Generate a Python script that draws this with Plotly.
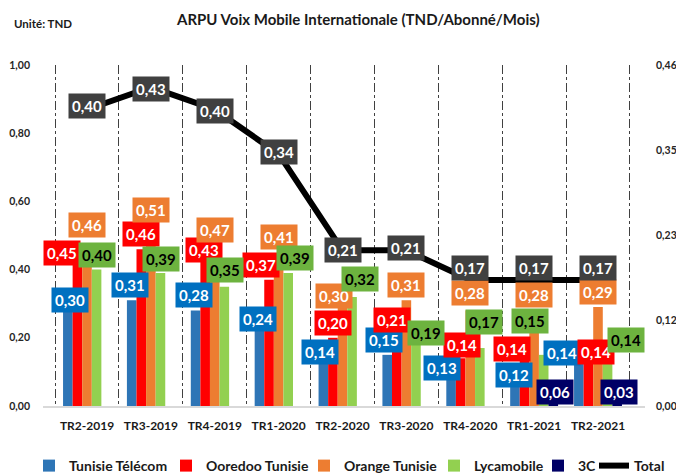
import plotly.graph_objects as go

# ---------------- data ----------------
categories = ["TR2-2019", "TR3-2019", "TR4-2019", "TR1-2020", "TR2-2020",
              "TR3-2020", "TR4-2020", "TR1-2021", "TR2-2021"]
tunisie_telecom = [0.30, 0.31, 0.28, 0.24, 0.14, 0.15, 0.13, 0.12, 0.14]
ooredoo = [0.45, 0.46, 0.43, 0.37, 0.20, 0.21, 0.14, 0.14, 0.14]
orange = [0.46, 0.51, 0.47, 0.41, 0.30, 0.31, 0.28, 0.28, 0.29]
lycamobile = [0.40, 0.39, 0.35, 0.39, 0.32, 0.19, 0.17, 0.15, 0.14]
c3 = [None, None, None, None, None, None, None, 0.06, 0.03]
total = [0.40, 0.43, 0.40, 0.34, 0.21, 0.21, 0.17, 0.17, 0.17]

left_ticks = [0.0, 0.2, 0.4, 0.6, 0.8, 1.0]
right_ticks = [0.0, 0.115, 0.23, 0.345, 0.46]
right_tick_labels = ["0,00", "0,12", "0,23", "0,35", "0,46"]

# ---------------- styles ----------------
FONT = "Lato, 'Open Sans', sans-serif"
OFF = 0  # page body margin removed via post_script
W, H = 676, 475
# target plot area on screen: x 43..645, y 65..406
ML = 43 - OFF
MT = 65 - OFF
MR = W - (645 - OFF)
MB = H - (406 - OFF)
PW, PH = W - ML - MR, H - MT - MB

series = [
    # name, values, bar colour, label bg, label text colour, label dx, label dy
    ("Tunisie Télécom", tunisie_telecom, "#2E75B6", "#0070C0", "white",
     [-17, -21, -21, -21, -23, -22, -28, -20, -36],
     [4, 15, 16, 5, 6, 15, -6, -10, 5]),
    ("Ooredoo Tunisie", ooredoo, "#FF0000", "#FF0000", "white",
     [-25, -10, -11, -18, -10, -14, -8, -22, -2],
     [0, 15, 9, 15, 15, 14, 13, 9, 6]),
    ("Orange Tunisie", orange, "#ED7D31", "#ED7D31", "white",
     [0, 0, 0, 0, -9, 0, 0, 0, 0],
     [24, 22, 16, 29, 8, 15, 18, 16, 15]),
    ("Lycamobile", lycamobile, "#92D050", "#6DB33F", "black",
     [10, 10, 10, 16, 17, 20, 14, -4, 28],
     [15, 14, 17, 15, 18, 8, 26, 34, 18]),
    ("3C", c3, "#000066", "#000066", "white",
     [0, 0, 0, 0, 0, 0, 0, 21, 21],
     [0, 0, 0, 0, 0, 0, 0, -6, 4]),
]
total_dy = [3, -2, -2, 2, 0, 2, 12, 12, 12]
# legend entries: screen x where each entry's text starts
legend_text_px = [69, 206, 344, 474, 578, 634]
LEGEND_Y_PX = 466


def fmt(v):
    return f"{v:.2f}".replace(".", ",")


def px_to_paper_x(px):
    return (px - OFF - ML) / PW


def px_to_paper_y(py):
    return 1 + (MT - (py - OFF)) / PH


fig = go.Figure()
annotations = []
legend_names = ["legend"] + [f"legend{i}" for i in range(2, 7)]

for i, (name, vals, col, lbg, lfc, dxs, dys) in enumerate(series):
    fig.add_trace(go.Bar(
        x=categories, y=vals, name=name, marker=dict(color=col, line=dict(width=0)),
        yaxis="y", legend=legend_names[i],
    ))
    for cat, v, dx, dy in zip(categories, vals, dxs, dys):
        if v is None:
            continue
        annotations.append(dict(
            x=cat, y=v, xref="x", yref="y", text=fmt(v), showarrow=False,
            xshift=dx, yshift=dy, bgcolor=lbg, borderpad=3,
            font=dict(family=FONT, size=15, color=lfc, weight="bold"),
            xanchor="center", yanchor="middle",
        ))

fig.add_trace(go.Scatter(
    x=categories, y=total, name="Total", mode="lines",
    line=dict(color="black", width=6), yaxis="y2", legend=legend_names[5],
))
for cat, v, dy in zip(categories, total, total_dy):
    annotations.append(dict(
        x=cat, y=v, xref="x", yref="y2", text=fmt(v), showarrow=False,
        yshift=dy, bgcolor="#404040", borderpad=3,
        font=dict(family=FONT, size=15, color="white", weight="bold"),
        xanchor="center", yanchor="middle",
    ))

annotations.append(dict(
    x=px_to_paper_x(358), y=px_to_paper_y(19), xref="paper", yref="paper",
    text="ARPU Voix Mobile Internationale (TND/Abonné/Mois)", showarrow=False,
    xanchor="center", yanchor="middle",
    font=dict(family=FONT, size=15, color="#1a1a1a", weight="bold"),
))
annotations.append(dict(
    x=px_to_paper_x(12), y=px_to_paper_y(23), xref="paper", yref="paper",
    text="Unité: TND", showarrow=False, xanchor="left", yanchor="middle",
    font=dict(family=FONT, size=11.5, color="#1a1a1a", weight="bold"),
))

layout_legends = {}
for lname, tpx in zip(legend_names, legend_text_px):
    layout_legends[lname] = dict(
        orientation="h", x=px_to_paper_x(tpx - 40), xanchor="left",
        y=px_to_paper_y(LEGEND_Y_PX), yanchor="middle",
        font=dict(family=FONT, size=14, color="#1a1a1a", weight="bold"),
        itemwidth=30, bgcolor="rgba(0,0,0,0)", borderwidth=0,
    )

fig.update_layout(
    width=W, height=H,
    margin=dict(l=ML, r=MR, t=MT, b=MB, pad=0, autoexpand=False),
    paper_bgcolor="white", plot_bgcolor="white",
    barmode="group", bargap=0.25, bargroupgap=0,
    separators=",.",
    font=dict(family=FONT, color="#262626"),
    showlegend=True,
    xaxis=dict(
        type="category", showgrid=True, tickson="boundaries", griddash="dashdot",
        gridcolor="#404040", gridwidth=1, showline=True, linecolor="#d9d9d9",
        linewidth=1.5, ticks="", ticklabelstandoff=8, tickangle=0, automargin=False,
        tickfont=dict(family=FONT, size=12, color="#1a1a1a", weight="bold"),
    ),
    yaxis=dict(
        range=[0, 1.0], tickvals=left_ticks, tickformat=".2f", showgrid=False,
        zeroline=False, showline=False, ticks="", ticklabelstandoff=12,
        automargin=False,
        tickfont=dict(family=FONT, size=10.5, color="#262626", weight="bold"),
    ),
    yaxis2=dict(
        range=[0, 0.46], tickvals=right_ticks, ticktext=right_tick_labels,
        overlaying="y", side="right", showgrid=False, zeroline=False,
        showline=False, ticks="", ticklabelstandoff=10, automargin=False,
        tickfont=dict(family=FONT, size=10.5, color="#262626", weight="bold"),
    ),
    annotations=annotations,
    **layout_legends,
)

fig.write_html(
    "out.html",
    config={"displayModeBar": False},
    post_script="document.body.style.margin='0';document.body.style.overflow='hidden';",
)
